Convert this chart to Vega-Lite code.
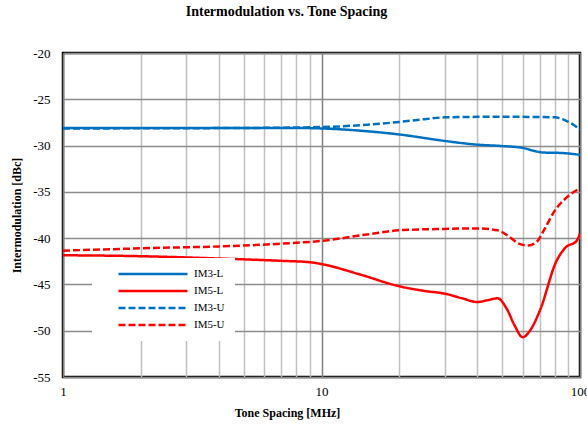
{
  "$schema": "https://vega.github.io/schema/vega-lite/v6.json",
  "autosize": {"type": "none"},
  "padding": {"left": 63, "top": 53, "right": 7, "bottom": 49},
  "width": 517,
  "height": 324,
  "background": "white",
  "config": {
    "font": "Liberation Serif",
    "view": {"stroke": "black", "strokeWidth": 2.5},
    "axis": {"labelFont": "Liberation Serif", "titleFont": "Liberation Serif", "labelColor": "black", "titleColor": "black"},
    "legend": {
      "orient": "none",
      "legendX": 29,
      "legendY": 205,
      "title": null,
      "fillColor": "white",
      "padding": 10,
      "symbolType": "stroke",
      "symbolSize": 4761,
      "symbolStrokeWidth": 2.5,
      "symbolOffset": 15,
      "labelFont": "Liberation Serif",
      "labelFontSize": 11,
      "labelColor": "black",
      "labelOffset": 5,
      "clipHeight": 12,
      "rowPadding": 5
    }
  },
  "title": {
    "text": "Intermodulation vs. Tone Spacing",
    "font": "Liberation Serif",
    "fontSize": 14,
    "fontWeight": "bold",
    "color": "black",
    "anchor": "middle",
    "dx": -35,
    "offset": 28
  },
  "data": {
    "values": [
      {"f": 1, "v": -28.1, "s": "IM3-L"},
      {"f": 2, "v": -28.1, "s": "IM3-L"},
      {"f": 5, "v": -28.1, "s": "IM3-L"},
      {"f": 8, "v": -28.1, "s": "IM3-L"},
      {"f": 10, "v": -28.15, "s": "IM3-L"},
      {"f": 15, "v": -28.45, "s": "IM3-L"},
      {"f": 20, "v": -28.8, "s": "IM3-L"},
      {"f": 30, "v": -29.5, "s": "IM3-L"},
      {"f": 40, "v": -29.9, "s": "IM3-L"},
      {"f": 50, "v": -30.05, "s": "IM3-L"},
      {"f": 60, "v": -30.25, "s": "IM3-L"},
      {"f": 66, "v": -30.55, "s": "IM3-L"},
      {"f": 72, "v": -30.75, "s": "IM3-L"},
      {"f": 85, "v": -30.8, "s": "IM3-L"},
      {"f": 100, "v": -31.0, "s": "IM3-L"},
      {"f": 1, "v": -41.85, "s": "IM5-L"},
      {"f": 2, "v": -41.95, "s": "IM5-L"},
      {"f": 4, "v": -42.2, "s": "IM5-L"},
      {"f": 7, "v": -42.45, "s": "IM5-L"},
      {"f": 9, "v": -42.6, "s": "IM5-L"},
      {"f": 10, "v": -42.8, "s": "IM5-L"},
      {"f": 14, "v": -43.9, "s": "IM5-L"},
      {"f": 20, "v": -45.2, "s": "IM5-L"},
      {"f": 25, "v": -45.7, "s": "IM5-L"},
      {"f": 30, "v": -46.0, "s": "IM5-L"},
      {"f": 35, "v": -46.5, "s": "IM5-L"},
      {"f": 40, "v": -46.9, "s": "IM5-L"},
      {"f": 44, "v": -46.7, "s": "IM5-L"},
      {"f": 48, "v": -46.5, "s": "IM5-L"},
      {"f": 52, "v": -47.6, "s": "IM5-L"},
      {"f": 56, "v": -49.5, "s": "IM5-L"},
      {"f": 60, "v": -50.7, "s": "IM5-L"},
      {"f": 64, "v": -50.0, "s": "IM5-L"},
      {"f": 70, "v": -47.8, "s": "IM5-L"},
      {"f": 81, "v": -42.5, "s": "IM5-L"},
      {"f": 88, "v": -41.0, "s": "IM5-L"},
      {"f": 97, "v": -40.3, "s": "IM5-L"},
      {"f": 100, "v": -39.5, "s": "IM5-L"},
      {"f": 1, "v": -28.15, "s": "IM3-U"},
      {"f": 5, "v": -28.1, "s": "IM3-U"},
      {"f": 10, "v": -28.0, "s": "IM3-U"},
      {"f": 15, "v": -27.75, "s": "IM3-U"},
      {"f": 20, "v": -27.45, "s": "IM3-U"},
      {"f": 25, "v": -27.15, "s": "IM3-U"},
      {"f": 30, "v": -26.95, "s": "IM3-U"},
      {"f": 40, "v": -26.9, "s": "IM3-U"},
      {"f": 60, "v": -26.9, "s": "IM3-U"},
      {"f": 80, "v": -26.95, "s": "IM3-U"},
      {"f": 88, "v": -27.3, "s": "IM3-U"},
      {"f": 95, "v": -27.8, "s": "IM3-U"},
      {"f": 100, "v": -28.3, "s": "IM3-U"},
      {"f": 1, "v": -41.35, "s": "IM5-U"},
      {"f": 2, "v": -41.1, "s": "IM5-U"},
      {"f": 5, "v": -40.8, "s": "IM5-U"},
      {"f": 8, "v": -40.5, "s": "IM5-U"},
      {"f": 10, "v": -40.3, "s": "IM5-U"},
      {"f": 15, "v": -39.6, "s": "IM5-U"},
      {"f": 20, "v": -39.15, "s": "IM5-U"},
      {"f": 30, "v": -39.0, "s": "IM5-U"},
      {"f": 40, "v": -38.95, "s": "IM5-U"},
      {"f": 48, "v": -39.15, "s": "IM5-U"},
      {"f": 53, "v": -39.8, "s": "IM5-U"},
      {"f": 58, "v": -40.6, "s": "IM5-U"},
      {"f": 63, "v": -40.8, "s": "IM5-U"},
      {"f": 68, "v": -40.4, "s": "IM5-U"},
      {"f": 73, "v": -39.0, "s": "IM5-U"},
      {"f": 80, "v": -37.0, "s": "IM5-U"},
      {"f": 88, "v": -35.7, "s": "IM5-U"},
      {"f": 100, "v": -34.6, "s": "IM5-U"}
    ]
  },
  "mark": {"type": "line", "interpolate": "monotone", "strokeWidth": 2.5, "clip": true},
  "encoding": {
    "x": {
      "field": "f",
      "type": "quantitative",
      "scale": {"type": "log", "domain": [1, 100], "nice": false},
      "axis": {
        "values": [1, 2, 3, 4, 5, 6, 7, 8, 9, 10, 20, 30, 40, 50, 60, 70, 80, 90, 100],
        "labelExpr": "(datum.value == 1 || datum.value == 10 || datum.value == 100) ? ('' + datum.value) : ''",
        "labelFontSize": 13,
        "labelPadding": 8,
        "labelFlush": false,
        "labelOverlap": false,
        "ticks": false,
        "domain": false,
        "grid": true,
        "gridColor": {"condition": {"test": "datum.value == 1 || datum.value == 10 || datum.value == 100", "value": "#808080"}, "value": "#c0c0c0"},
        "gridWidth": 1.5,
        "title": "Tone Spacing [MHz]",
        "titleFontSize": 12,
        "titleFontWeight": "bold",
        "titlePadding": 9,
        "titleX": 224
      }
    },
    "y": {
      "field": "v",
      "type": "quantitative",
      "scale": {"domain": [-55, -20], "nice": false, "zero": false},
      "axis": {
        "values": [-55, -50, -45, -40, -35, -30, -25, -20],
        "labelExpr": "'' + datum.value",
        "labelFontSize": 13,
        "labelPadding": 13,
        "ticks": false,
        "domain": false,
        "grid": true,
        "gridColor": "#8c8c8c",
        "gridWidth": 1.5,
        "title": "Intermodulation [dBc]",
        "titleFontSize": 12,
        "titleFontWeight": "bold",
        "titlePadding": 9
      }
    },
    "color": {
      "field": "s",
      "type": "nominal",
      "scale": {"domain": ["IM3-L", "IM5-L", "IM3-U", "IM5-U"], "range": ["#0070C0", "#FF0000", "#0070C0", "#FF0000"]}
    },
    "strokeDash": {
      "field": "s",
      "type": "nominal",
      "scale": {"domain": ["IM3-L", "IM5-L", "IM3-U", "IM5-U"], "range": [[1, 0], [1, 0], [7, 3], [7, 3]]}
    }
  }
}
